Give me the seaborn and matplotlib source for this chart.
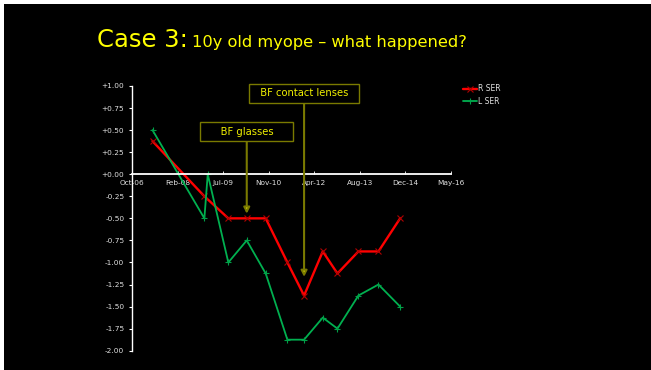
import numpy as np
import pandas as pd
import matplotlib
matplotlib.use("Agg")
import matplotlib.pyplot as plt
import matplotlib.dates as mdates
from matplotlib.patches import Rectangle
from matplotlib.ticker import FuncFormatter
import seaborn as sns

# ---------------- data ----------------
dates_r = ["2007-05-23", "2008-12-12", "2009-09-01", "2010-03-22", "2010-10-16",
           "2011-06-11", "2011-12-11", "2012-07-03", "2012-12-11", "2013-07-29",
           "2014-03-06", "2014-10-30"]
ser_r = [0.375, -0.25, -0.5, -0.5, -0.5, -1.0, -1.375, -0.875, -1.125, -0.875, -0.875, -0.5]

dates_l = ["2007-05-23", "2008-12-12", "2009-01-18", "2009-09-01", "2010-03-22",
           "2010-10-16", "2011-06-11", "2011-12-11", "2012-07-03", "2012-12-11",
           "2013-07-29", "2014-03-06", "2014-10-30"]
ser_l = [0.5, -0.5, 0.0, -1.0, -0.75, -1.125, -1.875, -1.875, -1.625, -1.75, -1.375, -1.25, -1.5]

series_names = ["R SER", "L SER"]
x_start, x_step, n_xticks = "2006-10-10", 500, 8
y_ticks = [1.0, 0.75, 0.5, 0.25, 0.0, -0.25, -0.5, -0.75, -1.0, -1.25, -1.5, -1.75, -2.0]

title_big = "Case 3:"
title_small = "10y old myope \u2013 what happened?"
note_glasses = "BF glasses"
note_contacts = "BF contact lenses"

df = pd.concat([
    pd.DataFrame({"date": pd.to_datetime(dates_r), "SER": ser_r, "eye": series_names[0]}),
    pd.DataFrame({"date": pd.to_datetime(dates_l), "SER": ser_l, "eye": series_names[1]}),
], ignore_index=True)

# ---------------- style ----------------
sns.set_style("dark", {"axes.facecolor": "black", "figure.facecolor": "black"})
plt.rcParams["font.family"] = ["DejaVu Sans"]

W, H = 651, 370
fig = plt.figure(figsize=(W / 100, H / 100), dpi=100, facecolor="white")
fig.patches.append(Rectangle((4 / W, 0), 1, 1 - 4 / H, transform=fig.transFigure,
                             facecolor="black", edgecolor="none", zorder=-10))

ax = fig.add_axes([132 / W, 1 - 350.7 / H, (451 - 132) / W, (350.7 - 86) / H])
ax.set_facecolor("none")

red, green = "#ff0000", "#00b050"
sns.lineplot(data=df, x="date", y="SER", hue="eye", style="eye",
             hue_order=series_names, style_order=series_names,
             palette={series_names[0]: red, series_names[1]: green},
             markers={series_names[0]: "x", series_names[1]: "+"}, dashes=False,
             linewidth=1.5, markersize=4, ax=ax, sort=True)

for ln in ax.lines:
    if matplotlib.colors.to_hex(ln.get_color()) == red:
        ln.set_markeredgecolor("#b00000")
        ln.set_linewidth(1.7)
    else:
        ln.set_markeredgecolor("#00a048")
        ln.set_linewidth(1.3)
    ln.set_markeredgewidth(0.8)

# axes
x0 = pd.Timestamp(x_start)
xt = [x0 + pd.Timedelta(days=x_step * k) for k in range(n_xticks)]
ax.set_xlim(xt[0], xt[-1])
ax.set_ylim(-2, 1)
ax.set_xticks(xt)
ax.xaxis.set_major_formatter(mdates.DateFormatter("%b-%y"))
ax.set_yticks(y_ticks)
ax.yaxis.set_major_formatter(FuncFormatter(lambda v, p: f"{v:+.2f}"))
ax.set_xlabel("")
ax.set_ylabel("")
ax.grid(False)

for s in ["top", "right"]:
    ax.spines[s].set_visible(False)
ax.spines["left"].set_color("white")
ax.spines["left"].set_linewidth(1.0)
ax.spines["bottom"].set_color("white")
ax.spines["bottom"].set_linewidth(1.3)
ax.spines["bottom"].set_position(("data", 0))

ax.tick_params(axis="y", colors="white", labelcolor="#e0e0e0", labelsize=5.3,
               length=2.5, width=0.8, direction="out", pad=3, left=True)
ax.tick_params(axis="x", colors="white", labelcolor="#e0e0e0", labelsize=5.3,
               length=2, width=0.6, direction="in", pad=4, bottom=True)

# legend
handles, labels = ax.get_legend_handles_labels()
leg = ax.legend(handles, labels, loc="upper left",
                bbox_to_anchor=(462.7 / W, 1 - 84.3 / H), bbox_transform=fig.transFigure,
                frameon=False, fontsize=5.5, borderpad=0, borderaxespad=0,
                handlelength=1.85, handletextpad=0.15, labelspacing=0.45)
for t in leg.get_texts():
    t.set_color("#e0e0e0")

# annotations
olive, yellow = "#7a7a00", "#f0f000"
xr = mdates.date2num(pd.to_datetime(dates_r))
ax.annotate("     " + note_glasses + "     ", xy=(xr[3], ser_r[3]), xytext=(xr[3], 0.482),
            textcoords="data", ha="center", va="center", fontsize=7.2, color=yellow,
            bbox=dict(boxstyle="square,pad=0.45", fc="black", ec=olive, lw=1.0),
            arrowprops=dict(arrowstyle="-|>,head_length=0.35,head_width=0.18",
                            ec=olive, fc=yellow, lw=1.5, shrinkA=0, shrinkB=3.4,
                            mutation_scale=10))
ax.annotate("  " + note_contacts + "  ", xy=(xr[6], ser_r[6]), xytext=(xr[6], 0.916),
            textcoords="data", ha="center", va="center", fontsize=7.2, color=yellow,
            bbox=dict(boxstyle="square,pad=0.45", fc="black", ec=olive, lw=1.0),
            arrowprops=dict(arrowstyle="-|>,head_length=0.35,head_width=0.18",
                            ec=olive, fc=yellow, lw=1.5, shrinkA=0, shrinkB=13.5,
                            mutation_scale=10))

# title
fig.text(97.3 / W, 1 - 46.7 / H, title_big, fontsize=17.5, color="#ffff00",
         ha="left", va="baseline")
fig.text(191.7 / W, 1 - 46.7 / H, title_small, fontsize=11.7, color="#ffff00",
         ha="left", va="baseline")

fig.savefig("out.png", dpi=100, facecolor=fig.get_facecolor())
